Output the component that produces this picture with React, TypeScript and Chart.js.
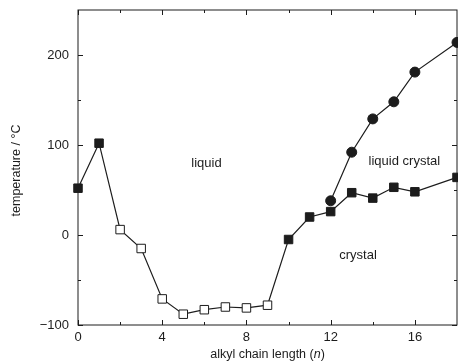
import React, { useEffect, useRef } from "react";
import { Chart, registerables } from "chart.js";

Chart.register(...registerables);

// chain length n for the melting / clearing curve (squares)
const nSquares = [0, 1, 2, 3, 4, 5, 6, 7, 8, 9, 10, 11, 12, 13, 14, 15, 16, 18];
const tempSquares = [52, 102, 6, -15, -71, -88, -83, -80, -81, -78, -5, 20, 26, 47, 41, 53, 48, 64];
const openSquares = [false, false, true, true, true, true, true, true, true, true, false, false, false, false, false, false, false, false];
// clearing points (circles)
const nCircles = [12, 13, 14, 15, 16, 18];
const tempCircles = [38, 92, 129, 148, 181, 214];

const xMajorTicks = [0, 4, 8, 12, 16];
const xMinorTicks = [2, 6, 10, 14];
const yMajorTicks = [-100, 0, 100, 200];
const yMinorTicks = [-50, 50, 150];

const regionLabels = [
  { text: "liquid", x: 6.1, y: 80 },
  { text: "liquid crystal", x: 15.5, y: 82 },
  { text: "crystal", x: 13.3, y: -23 },
];

const FONT = "'Liberation Sans', Arial, Helvetica, sans-serif";
const INK = "#1c1c1c";

const decorPlugin = {
  id: "decor",
  afterDatasetsDraw(chart: any) {
    const { ctx, chartArea: a, scales } = chart;
    const xs = scales.x;
    const ys = scales.y;
    ctx.save();
    ctx.strokeStyle = INK;
    ctx.lineWidth = 1;
    ctx.strokeRect(a.left, a.top, a.right - a.left, a.bottom - a.top);
    const tick = (v: number, len: number, axis: "x" | "y") => {
      ctx.beginPath();
      if (axis === "x") {
        const px = Math.round(xs.getPixelForValue(v)) + 0.5;
        ctx.moveTo(px, a.bottom);
        ctx.lineTo(px, a.bottom - len);
        ctx.moveTo(px, a.top);
        ctx.lineTo(px, a.top + len);
      } else {
        const py = Math.round(ys.getPixelForValue(v)) + 0.5;
        ctx.moveTo(a.left, py);
        ctx.lineTo(a.left + len, py);
        ctx.moveTo(a.right, py);
        ctx.lineTo(a.right - len, py);
      }
      ctx.stroke();
    };
    xMajorTicks.forEach((v) => tick(v, 5, "x"));
    xMinorTicks.forEach((v) => tick(v, 3, "x"));
    yMajorTicks.forEach((v) => tick(v, 5, "y"));
    yMinorTicks.forEach((v) => tick(v, 3, "y"));

    ctx.fillStyle = INK;
    ctx.font = `13px ${FONT}`;
    ctx.textAlign = "center";
    ctx.textBaseline = "middle";
    regionLabels.forEach((l) => {
      ctx.fillText(l.text, xs.getPixelForValue(l.x), ys.getPixelForValue(l.y));
    });

    // x axis title with italic n
    const cx = (a.left + a.right) / 2;
    const ty = 355;
    ctx.font = `12.5px ${FONT}`;
    const p1 = "alkyl chain length (";
    const p3 = ")";
    const w1 = ctx.measureText(p1).width;
    const w3 = ctx.measureText(p3).width;
    ctx.font = `italic 12.5px ${FONT}`;
    const w2 = ctx.measureText("n").width;
    let sx = cx - (w1 + w2 + w3) / 2;
    ctx.textAlign = "left";
    ctx.font = `12.5px ${FONT}`;
    ctx.fillText(p1, sx, ty);
    sx += w1;
    ctx.font = `italic 12.5px ${FONT}`;
    ctx.fillText("n", sx, ty);
    sx += w2;
    ctx.font = `12.5px ${FONT}`;
    ctx.fillText(p3, sx, ty);

    // y axis title
    ctx.save();
    ctx.translate(17, (a.top + a.bottom) / 2 + 3);
    ctx.rotate(-Math.PI / 2);
    ctx.textAlign = "center";
    ctx.fillText("temperature / °C", 0, 0);
    ctx.restore();
    ctx.restore();
  },
};

export default function App() {
  const ref = useRef<HTMLCanvasElement>(null);
  useEffect(() => {
    if (!ref.current) return;
    const chart = new Chart(ref.current, {
      type: "line",
      data: {
        datasets: [
          {
            data: nSquares.map((n, i) => ({ x: n, y: tempSquares[i] })),
            borderColor: INK,
            borderWidth: 1.2,
            pointStyle: "rect",
            pointRadius: 6,
            pointBorderWidth: 1,
            pointBorderColor: INK,
            pointBackgroundColor: openSquares.map((o) => (o ? "#ffffff" : INK)),
            clip: false as any,
          },
          {
            data: nCircles.map((n, i) => ({ x: n, y: tempCircles[i] })),
            borderColor: INK,
            borderWidth: 1.2,
            pointStyle: "circle",
            pointRadius: 5,
            pointBorderWidth: 1,
            pointBorderColor: INK,
            pointBackgroundColor: INK,
            clip: false as any,
          },
        ],
      },
      options: {
        animation: false,
        responsive: false,
        layout: { autoPadding: false, padding: { left: 0, right: 1, top: 10, bottom: 0 } },
        plugins: { legend: { display: false }, tooltip: { enabled: false } },
        scales: {
          x: {
            type: "linear",
            min: 0,
            max: 18,
            grid: { display: false, drawTicks: false },
            border: { display: false },
            afterBuildTicks: (s: any) => {
              s.ticks = xMajorTicks.map((v) => ({ value: v }));
            },
            afterFit: (s: any) => {
              s.height = 38;
              s.paddingLeft = 0;
              s.paddingRight = 0;
            },
            ticks: {
              padding: 5,
              color: INK,
              font: { family: FONT, size: 13 },
              maxRotation: 0,
            },
          },
          y: {
            type: "linear",
            min: -100,
            max: 250,
            grid: { display: false, drawTicks: false },
            border: { display: false },
            afterBuildTicks: (s: any) => {
              s.ticks = yMajorTicks.map((v) => ({ value: v }));
            },
            afterFit: (s: any) => {
              s.width = 78;
              s.paddingTop = 0;
              s.paddingBottom = 0;
            },
            ticks: {
              padding: 9,
              color: INK,
              font: { family: FONT, size: 13 },
              callback: (v: any) => (Number(v) < 0 ? "\u2212" + Math.abs(Number(v)) : String(v)),
            },
          },
        },
      },
      plugins: [decorPlugin],
    });
    return () => chart.destroy();
  }, []);
  return (
    <canvas
      ref={ref}
      width={458}
      height={363}
      style={{ position: "fixed", left: 0, top: 0, background: "#fff" }}
    />
  );
}
